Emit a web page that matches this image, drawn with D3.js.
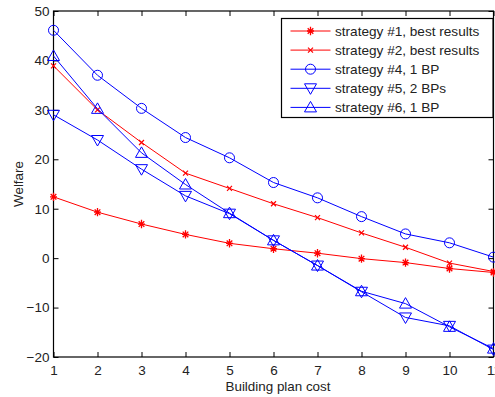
<!DOCTYPE html>
<html><head><meta charset="utf-8">
<script src="https://cdn.jsdelivr.net/npm/d3@7"></script>
<style>body{margin:0;background:#fff}svg text{font-family:"Liberation Sans",Arial,sans-serif;fill:#222}</style>
</head><body><svg id="c" width="495" height="397"></svg>
<script>
const xValues = [1,2,3,4,5,6,7,8,9,10,11];
const s1 = [12.4,9.3,6.9,4.8,3.0,1.9,1.0,-0.1,-0.9,-2.1,-2.9];
const s2 = [38.9,30.0,23.4,17.2,14.1,11.0,8.2,5.1,2.2,-1.0,-2.7];
const s4 = [46.1,37.0,30.3,24.4,20.3,15.3,12.2,8.4,4.9,3.1,0.2];
const s5 = [29.0,23.9,18.0,12.6,9.0,3.6,-1.5,-6.8,-12.0,-13.7,-18.5];
const s6 = [40.9,30.2,21.3,14.9,9.1,3.6,-1.5,-6.7,-9.2,-13.9,-18.3];
const seriesNames = ["strategy #1, best results","strategy #2, best results","strategy #4, 1 BP","strategy #5, 2 BPs","strategy #6, 1 BP"];
const xTicks = [1,2,3,4,5,6,7,8,9,10,11];
const yTicks = [-20,-10,0,10,20,30,40,50];

const series = [
  {name:seriesNames[0], values:s1, color:"#ff0000", marker:"star"},
  {name:seriesNames[1], values:s2, color:"#ff0000", marker:"x"},
  {name:seriesNames[2], values:s4, color:"#0000ff", marker:"circle"},
  {name:seriesNames[3], values:s5, color:"#0000ff", marker:"down"},
  {name:seriesNames[4], values:s6, color:"#0000ff", marker:"up"}
];

const svg = d3.select("#c");
const L=53.5, R=493.5, T=11, B=357;
const x = d3.scaleLinear().domain([1,11]).range([L,R]);
const y = d3.scaleLinear().domain([-20,50]).range([B,T]);

const gx = svg.append("g").attr("transform",`translate(0,${B})`)
  .call(d3.axisBottom(x).tickValues(xTicks).tickSize(-5).tickPadding(8).tickFormat(d3.format("d")));
const gxt = svg.append("g").attr("transform",`translate(0,${T})`)
  .call(d3.axisTop(x).tickValues(xTicks).tickSize(-5).tickFormat(""));
const gy = svg.append("g").attr("transform",`translate(${L},0)`)
  .call(d3.axisLeft(y).tickValues(yTicks).tickSize(-5).tickPadding(4).tickFormat(d3.format("d")));
const gyr = svg.append("g").attr("transform",`translate(${R},0)`)
  .call(d3.axisRight(y).tickValues(yTicks).tickSize(-5).tickFormat(""));
[gx,gxt,gy,gyr].forEach(g=>{
  g.select(".domain").remove();
  g.selectAll("line").attr("stroke","#000").attr("stroke-width",1);
  g.selectAll("text").attr("font-size",13.5).style("fill","#222");
});
gy.selectAll("text").text(d=> d<0 ? "\u2212"+Math.abs(d) : d);
svg.append("rect").attr("x",L).attr("y",T).attr("width",R-L).attr("height",B-T)
  .attr("fill","none").attr("stroke","#000").attr("stroke-width",1.2);

svg.append("text").attr("x",278).attr("y",391).attr("text-anchor","middle").attr("font-size",13.4).text("Building plan cost");
svg.append("text").attr("transform","translate(23,184) rotate(-90)").attr("text-anchor","middle").attr("font-size",13.4).text("Welfare");

function drawMarker(g, type, cx, cy, color){
  if(type==="circle"){
    g.append("circle").attr("cx",cx).attr("cy",cy).attr("r",5).attr("fill","none").attr("stroke",color);
  } else if(type==="up"){
    const s=6;
    g.append("path").attr("d",`M${cx},${cy-s}L${cx+s},${cy+s*0.75}L${cx-s},${cy+s*0.75}Z`).attr("fill","none").attr("stroke",color);
  } else if(type==="down"){
    const s=6;
    g.append("path").attr("d",`M${cx},${cy+s}L${cx+s},${cy-s*0.75}L${cx-s},${cy-s*0.75}Z`).attr("fill","none").attr("stroke",color);
  } else if(type==="x"){
    const s=2.5;
    g.append("path").attr("d",`M${cx-s},${cy-s}L${cx+s},${cy+s}M${cx-s},${cy+s}L${cx+s},${cy-s}`).attr("stroke",color).attr("stroke-width",1.2);
  } else if(type==="star"){
    const s=3.5;
    g.append("path").attr("d",`M${cx-s},${cy}L${cx+s},${cy}M${cx},${cy-s*1.2}L${cx},${cy+s*1.2}M${cx-s*0.8},${cy-s*0.8}L${cx+s*0.8},${cy+s*0.8}M${cx-s*0.8},${cy+s*0.8}L${cx+s*0.8},${cy-s*0.8}`).attr("stroke",color).attr("stroke-width",1.3);
  }
}

const plot = svg.append("g");
const line = d3.line().x((d,i)=>x(xValues[i])).y(d=>y(d));
series.forEach(s=>{
  plot.append("path").attr("d",line(s.values)).attr("fill","none").attr("stroke",s.color).attr("stroke-width",1);
  s.values.forEach((v,i)=>drawMarker(plot,s.marker,x(xValues[i]),y(v),s.color));
});

const lg = svg.append("g");
lg.append("rect").attr("x",281.5).attr("y",18.5).attr("width",211.5).attr("height",99)
  .attr("fill","#fff").attr("stroke","#000").attr("stroke-width",1.2);
series.forEach((s,i)=>{
  const yy = 31 + i*19.1;
  lg.append("line").attr("x1",290.5).attr("x2",330.5).attr("y1",yy).attr("y2",yy).attr("stroke",s.color);
  drawMarker(lg,s.marker,310.5,yy,s.color);
  lg.append("text").attr("x",335).attr("y",yy+5).attr("font-size",13.6).text(s.name);
});
</script></body></html>
